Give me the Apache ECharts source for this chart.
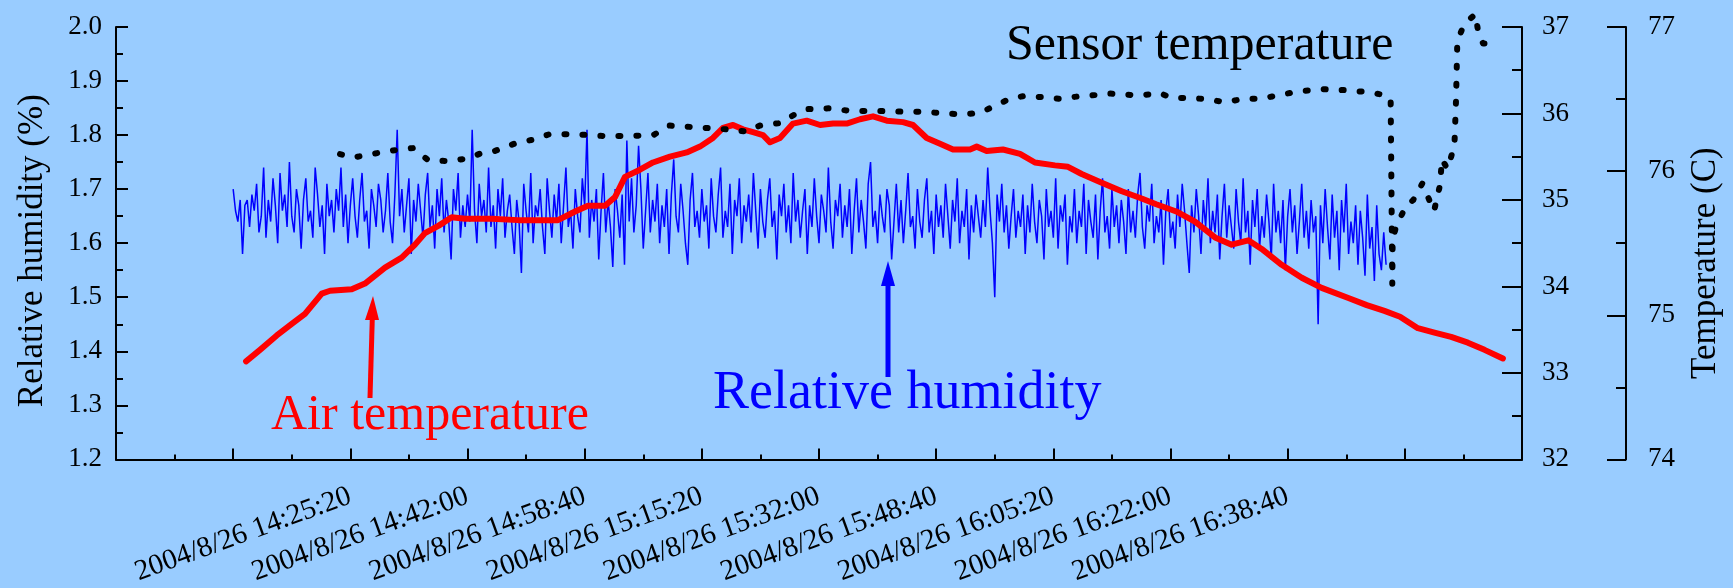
<!DOCTYPE html>
<html><head><meta charset="utf-8">
<script src="https://cdn.jsdelivr.net/npm/echarts@6/dist/echarts.min.js"></script>
<style>html,body{margin:0;padding:0;background:#99ccff}#c{width:1733px;height:588px}</style>
</head><body><div id="c"></div>
<script>
// ---- data ----
const DATE = '2004/8/26';
const T0 = '13:52:00';               // left end of the time axis
const xTickLabels = ['14:25:20','14:42:00','14:58:40','15:15:20','15:32:00','15:48:40','16:05:20','16:22:00','16:38:40'];
const humidityStart = '14:08:40';
const humidityStepSec = 20;
const humidity = [
1.70,1.66,1.64,1.68,1.58,1.67,1.68,1.63,1.69,1.66,1.71,1.62,1.65,1.74,1.61,1.68,1.64,1.72,1.67,1.60,
1.73,1.66,1.69,1.63,1.75,1.65,1.62,1.70,1.67,1.59,1.68,1.72,1.64,1.66,1.61,1.74,1.69,1.63,1.67,1.58,
1.71,1.65,1.68,1.62,1.70,1.66,1.74,1.63,1.69,1.60,1.67,1.72,1.65,1.61,1.68,1.73,1.64,1.66,1.59,1.70,
1.67,1.63,1.71,1.68,1.62,1.66,1.73,1.64,1.60,1.69,1.81,1.65,1.70,1.62,1.67,1.72,1.58,1.68,1.64,1.71,
1.66,1.61,1.69,1.73,1.63,1.67,1.59,1.70,1.65,1.72,1.62,1.68,1.64,1.57,1.70,1.66,1.73,1.61,1.67,1.63,
1.69,1.64,1.81,1.66,1.60,1.71,1.65,1.68,1.62,1.74,1.63,1.67,1.59,1.70,1.65,1.72,1.61,1.66,1.69,1.63,
1.58,1.68,1.64,1.545,1.71,1.66,1.62,1.73,1.60,1.67,1.65,1.70,1.63,1.58,1.72,1.66,1.61,1.69,1.64,1.71,
1.60,1.67,1.74,1.63,1.66,1.59,1.70,1.65,1.62,1.72,1.67,1.81,1.61,1.68,1.64,1.70,1.57,1.66,1.73,1.62,
1.68,1.63,1.556,1.70,1.66,1.61,1.69,1.56,1.79,1.64,1.72,1.62,1.67,1.78,1.70,1.59,1.66,1.73,1.62,1.68,
1.64,1.71,1.60,1.67,1.63,1.70,1.58,1.69,1.755,1.65,1.62,1.71,1.66,1.60,1.56,1.68,1.73,1.63,1.66,1.61,
1.70,1.64,1.67,1.59,1.72,1.65,1.62,1.69,1.74,1.61,1.66,1.63,1.71,1.58,1.68,1.65,1.72,1.60,1.67,1.64,
1.69,1.62,1.73,1.66,1.59,1.70,1.64,1.61,1.68,1.72,1.63,1.66,1.57,1.69,1.65,1.71,1.62,1.67,1.60,1.73,
1.64,1.68,1.61,1.66,1.70,1.58,1.67,1.63,1.72,1.65,1.60,1.69,1.66,1.62,1.74,1.64,1.59,1.68,1.65,1.71,
1.61,1.67,1.63,1.70,1.58,1.66,1.72,1.62,1.68,1.64,1.59,1.71,1.75,1.63,1.66,1.60,1.69,1.65,1.62,1.70,
1.67,1.57,1.64,1.71,1.62,1.68,1.60,1.66,1.73,1.63,1.65,1.59,1.70,1.64,1.61,1.68,1.72,1.62,1.66,1.58,
1.69,1.63,1.67,1.61,1.71,1.65,1.59,1.68,1.64,1.72,1.60,1.66,1.63,1.70,1.57,1.67,1.62,1.69,1.65,1.61,
1.68,1.63,1.74,1.66,1.60,1.50,1.69,1.64,1.71,1.62,1.67,1.59,1.65,1.70,1.61,1.66,1.63,1.69,1.58,1.67,
1.62,1.71,1.64,1.60,1.68,1.65,1.57,1.70,1.63,1.66,1.61,1.72,1.59,1.67,1.64,1.69,1.56,1.65,1.62,1.70,
1.60,1.66,1.63,1.71,1.58,1.68,1.64,1.61,1.69,1.57,1.66,1.72,1.62,1.65,1.59,1.70,1.63,1.67,1.60,1.68,
1.64,1.58,1.70,1.62,1.66,1.61,1.69,1.73,1.63,1.59,1.67,1.64,1.71,1.60,1.65,1.62,1.68,1.56,1.66,1.70,
1.61,1.64,1.59,1.69,1.63,1.71,1.66,1.60,1.545,1.67,1.62,1.70,1.65,1.58,1.68,1.63,1.72,1.60,1.66,1.62,
1.69,1.57,1.65,1.71,1.61,1.67,1.63,1.59,1.70,1.64,1.60,1.72,1.62,1.66,1.56,1.68,1.63,1.70,1.59,1.65,
1.61,1.69,1.64,1.57,1.71,1.62,1.66,1.60,1.68,1.55,1.65,1.70,1.62,1.67,1.58,1.64,1.71,1.61,1.66,1.59,
1.68,1.62,1.65,1.45,1.67,1.60,1.70,1.63,1.57,1.69,1.61,1.66,1.55,1.68,1.62,1.71,1.58,1.64,1.60,1.67,
1.56,1.66,1.61,1.54,1.69,1.59,1.63,1.53,1.67,1.58,1.55,1.62,1.56
];
// seconds after T0
const airSec = [1110,1229,1372,1500,1613,1756,1827,2012,2125,2296,2438,2552,2637,2751,2865,2979,3207,3431,3661,3772,3918,4028,4174,4259,4344,4472,4583,4728,4871,4984,5095,5181,5266,5351,5437,5522,5582,5667,5778,5895,6009,6120,6236,6350,6461,6578,6717,6802,6919,7033,7144,7289,7346,7431,7570,7716,7843,8014,8125,8242,8413,8584,8754,8878,9049,9209,9380,9522,9664,9778,9949,10120,10290,10518,10675,10826,10959,11111,11253,11395,11538,11680,11837];
const airTemp = [74.68,74.76,74.86,74.94,75.01,75.15,75.17,75.18,75.22,75.33,75.40,75.49,75.57,75.62,75.68,75.67,75.67,75.66,75.66,75.66,75.72,75.76,75.76,75.82,75.96,76.01,76.06,76.10,76.13,76.17,76.23,76.30,76.32,76.29,76.27,76.25,76.20,76.23,76.33,76.35,76.32,76.33,76.33,76.36,76.38,76.35,76.34,76.32,76.23,76.19,76.15,76.15,76.17,76.14,76.15,76.12,76.06,76.04,76.03,75.98,75.92,75.86,75.81,75.77,75.72,75.65,75.54,75.49,75.52,75.46,75.35,75.26,75.19,75.12,75.07,75.03,74.99,74.91,74.88,74.85,74.81,74.76,74.70];
const sensorSec = [1912,2025,2182,2345,2537,2665,2831,3007,3115,3220,3320,3420,3570,3698,3912,4154,4387,4586,4722,4956,5178,5383,5496,5676,5781,5902,6094,6265,6493,6734,6905,7061,7252,7380,7517,7630,7744,7886,8057,8228,8336,8484,8597,8708,8819,8902,9010,9098,9275,9474,9621,9783,9911,10116,10319,10481,10663,10845,10879,10893,10896,10930,11007,11072,11149,11249,11300,11317,11363,11423,11437,11448,11506,11602,11627,11667,11727];
const sensorTemp = [35.53,35.49,35.53,35.57,35.60,35.46,35.45,35.48,35.54,35.56,35.61,35.66,35.70,35.76,35.76,35.74,35.74,35.75,35.86,35.84,35.82,35.79,35.86,35.89,35.98,36.05,36.06,36.03,36.03,36.02,36.02,36.00,35.99,36.01,36.10,36.17,36.20,36.19,36.17,36.20,36.21,36.23,36.22,36.21,36.22,36.24,36.18,36.18,36.17,36.13,36.17,36.17,36.21,36.26,36.28,36.27,36.25,36.21,36.16,34.03,34.55,34.71,34.92,35.00,35.19,34.87,35.17,35.47,35.36,35.62,36.16,36.84,37.03,37.15,36.94,36.81,36.81];

// ---- helpers ----
function clockToSec(s){const p=s.split(':').map(Number);return p[0]*3600+p[1]*60+p[2];}
const t0 = clockToSec(T0);
function secToClock(sec){let t=t0+sec;const h=Math.floor(t/3600);t-=h*3600;const m=Math.floor(t/60);const s=t-m*60;
  return h+':'+String(m).padStart(2,'0')+':'+String(s).padStart(2,'0');}
const hStart = clockToSec(humidityStart)-t0;
const humidityData = humidity.map((v,i)=>[hStart+i*humidityStepSec, v]);
const airData = airSec.map((s,i)=>[s, airTemp[i]]);
const sensorData = sensorSec.map((s,i)=>[s, sensorTemp[i]]);

const FONT = 'Liberation Serif';
const axisLineStyle = {color:'#000', width:2};
function yAxisBase(o){
  return Object.assign({
    type:'value', splitLine:{show:false},
    axisLine:{show:true, onZero:false, lineStyle:axisLineStyle},
    axisTick:{show:true, inside:true, length:12, lineStyle:{color:'#000', width:2}},
    minorTick:{show:true, splitNumber:2, length:7, lineStyle:{color:'#000', width:2}},
    axisLabel:{color:'#000', fontFamily:FONT, fontSize:27, margin:14},
    nameLocation:'middle', nameRotate:90,
    nameTextStyle:{color:'#000', fontFamily:FONT, fontSize:35}
  }, o);
}

const chart = echarts.init(document.getElementById('c'), null, {renderer:'canvas'});
chart.setOption({
  animation:false,
  backgroundColor:'#99ccff',
  grid:{left:116, right:211, top:27, bottom:125, containLabel:false},
  xAxis:{
    type:'value', min:0, max:12000, interval:1000,
    splitLine:{show:false},
    axisLine:{onZero:false, lineStyle:axisLineStyle},
    axisTick:{inside:true, length:11, lineStyle:{color:'#000', width:2}},
    minorTick:{show:true, splitNumber:2, length:5, lineStyle:{color:'#000', width:2}},
    axisLabel:{
      rotate:20, margin:36, color:'#000', fontFamily:FONT, fontSize:29,
      showMinLabel:true, showMaxLabel:true,
      formatter:function(v){const c=secToClock(v);return xTickLabels.indexOf(c)>=0?DATE+' '+c:'';}
    }
  },
  yAxis:[
    yAxisBase({min:1.2, max:2.0, interval:0.1, position:'left', name:'Relative humidity (%)', nameGap:66,
      axisLabel:{color:'#000', fontFamily:FONT, fontSize:27, margin:14, formatter:v=>v.toFixed(1)},
      nameTextStyle:{color:'#000', fontFamily:FONT, fontSize:35, padding:[0,15,0,0]}}),
    yAxisBase({min:32, max:37, interval:1, position:'right', offset:0,
      axisTick:{show:true, inside:true, length:20, lineStyle:{color:'#000', width:2}},
      minorTick:{show:true, splitNumber:2, length:10, lineStyle:{color:'#000', width:2}},
      axisLabel:{color:'#000', fontFamily:FONT, fontSize:27, margin:20}}),
    yAxisBase({min:74, max:77, interval:1, position:'right', offset:104, name:'Temperature (C)', nameGap:62,
      axisTick:{show:true, inside:true, length:19, lineStyle:{color:'#000', width:2}},
      minorTick:{show:true, splitNumber:2, length:10, lineStyle:{color:'#000', width:2}},
      axisLabel:{color:'#000', fontFamily:FONT, fontSize:27, margin:22},
      nameTextStyle:{color:'#000', fontFamily:FONT, fontSize:35, padding:[0,40,0,0]}})
  ],
  series:[
    {type:'line', name:'Relative humidity', yAxisIndex:0, data:humidityData, showSymbol:false, symbol:'none',
      lineStyle:{color:'#0000ff', width:1.5}, z:2},
    {type:'line', name:'Air temperature', yAxisIndex:2, data:airData, showSymbol:false, symbol:'none',
      lineStyle:{color:'#ff0000', width:6, cap:'round', join:'round'}, z:3},
    {type:'line', name:'Sensor temperature', yAxisIndex:1, data:sensorData, showSymbol:false, symbol:'none', clip:false,
      lineStyle:{color:'#000', width:6, type:[2,16], cap:'round', join:'round'}, z:4}
  ],
  graphic:[
    {type:'text', x:1006, y:46, style:{text:'Sensor temperature', fill:'#000', font:'50px "Liberation Serif"', verticalAlign:'middle', align:'left'}},
    {type:'text', x:271, y:416, style:{text:'Air temperature', fill:'#ff0000', font:'50px "Liberation Serif"', verticalAlign:'middle', align:'left'}},
    {type:'text', x:713, y:394, style:{text:'Relative humidity', fill:'#0000ff', font:'54px "Liberation Serif"', verticalAlign:'middle', align:'left'}},
    {type:'polyline', shape:{points:[[370,398],[372.3,318]]}, style:{stroke:'#ff0000', lineWidth:5, fill:null}},
    {type:'polygon', shape:{points:[[365,320],[379,320],[373,296]]}, style:{fill:'#ff0000'}},
    {type:'polyline', shape:{points:[[888,377],[888,283]]}, style:{stroke:'#0000ff', lineWidth:5, fill:null}},
    {type:'polygon', shape:{points:[[881,286],[895,286],[888,261]]}, style:{fill:'#0000ff'}}
  ]
});
</script></body></html>
